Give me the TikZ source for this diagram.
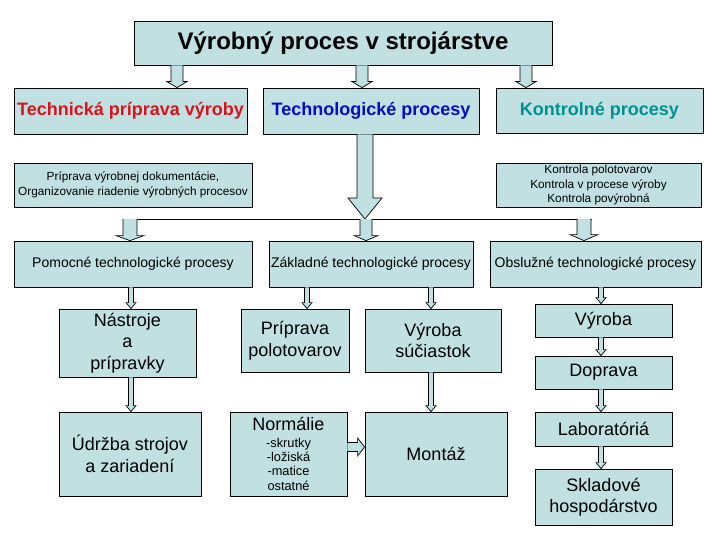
\documentclass[tikz,border=0pt]{standalone}
\usepackage{fontspec}
\setmainfont{Liberation Sans}
\usetikzlibrary{calc}
\definecolor{boxc}{RGB}{192,224,226}
\definecolor{tred}{RGB}{215,20,30}
\definecolor{tblue}{RGB}{10,10,200}
\definecolor{tteal}{RGB}{0,145,145}
\tikzset{
  box/.style={draw=black, line width=0.8pt, fill=boxc, inner sep=0pt, align=center, text=black},
  blk/.style={draw=black, line width=0.7pt, fill=boxc, line join=miter},
  ftitle/.style={font=\fontsize{24}{28}\selectfont\bfseries},
  fhead/.style={font=\fontsize{18}{21}\selectfont\bfseries},
  fsmall/.style={font=\fontsize{11.8}{14.3}\selectfont},
  fmid/.style={font=\fontsize{14}{16}\selectfont},
  fbig/.style={font=\fontsize{18}{21.5}\selectfont},
}
% vertical block arrow: x, from, to, shaft half width, head half width, head length
\newcommand\vblk[6]{%
  \draw[blk] let \p1=(#2), \p2=(#3) in
  (#1pt-#4pt,\y1) -- (#1pt-#4pt,\y2+#6pt) -- (#1pt-#5pt,\y2+#6pt) -- (#1pt,\y2)
  -- (#1pt+#5pt,\y2+#6pt) -- (#1pt+#4pt,\y2+#6pt) -- (#1pt+#4pt,\y1);}
% horizontal block arrow: y, from, to, shaft half width, head half width, head length
\newcommand\hblk[6]{%
  \draw[blk] let \p1=(#2), \p2=(#3) in
  (\x1,-#1pt+#4pt) -- (\x2-#6pt,-#1pt+#4pt) -- (\x2-#6pt,-#1pt+#5pt) -- (\x2,-#1pt)
  -- (\x2-#6pt,-#1pt-#5pt) -- (\x2-#6pt,-#1pt-#4pt) -- (\x1,-#1pt-#4pt);}
\begin{document}
\begin{tikzpicture}[x=1pt,y=-1pt]
\fill[white] (0,0) rectangle (720,540);
\useasboundingbox (0,0) rectangle (720,540);

% row 1
\node[box, ftitle, minimum width=418pt, minimum height=44pt] (title) at (343,43) {Výrobný proces v strojárstve};
% row 2
\node[box, fhead, text=tred, minimum width=233pt, minimum height=46pt] (tech) at (130.5,111) {Technická príprava výroby};
\node[box, fhead, text=tblue, minimum width=216pt, minimum height=46pt] (techn) at (371,111) {Technologické procesy};
\node[box, fhead, text=tteal, minimum width=207pt, minimum height=45pt] (kontr) at (599.5,110.5) {Kontrolné procesy};
% row 3
\node[box, fsmall, minimum width=238pt, minimum height=44pt] (prip) at (133,185) {Príprava výrobnej dokumentácie,\\Organizovanie riadenie výrobných procesov};
\node[box, fsmall, minimum width=205pt, minimum height=44pt] (kon2) at (598.5,185) {Kontrola polotovarov\\Kontrola v procese výroby\\Kontrola povýrobná};
% row 4
\node[box, fmid, minimum width=238pt, minimum height=46pt] (pomoc) at (133,264) {Pomocné technologické procesy};
\node[box, fmid, minimum width=204pt, minimum height=46pt] (zakl) at (371,264) {Základné technologické procesy};
\node[box, fmid, minimum width=211pt, minimum height=46pt] (obsl) at (595.5,264) {Obslužné technologické procesy};
% row 5
\node[box, fbig, minimum width=137pt, minimum height=68pt] (nastr) at (127.5,343) {Nástroje\\a\\prípravky};
\node[box, fbig, minimum width=108pt, minimum height=63pt] (pripol) at (295,340.5) {Príprava\\polotovarov};
\node[box, fbig, minimum width=136pt, minimum height=63pt] (vyrs) at (433,340.5) {Výroba\\súčiastok};
\node[box, fbig, minimum width=137pt, minimum height=33pt] (vyr) at (603.5,320.5) {Výroba};
\node[box, fbig, minimum width=137pt, minimum height=33pt] (dopr) at (603.5,372.5) {Doprava};
\node[box, fbig, minimum width=137pt, minimum height=34pt] (lab) at (603.5,429) {Laboratóriá};
\node[box, fbig, minimum width=137pt, minimum height=56pt] (sklad) at (603.5,497) {Skladové\\hospodárstvo};
% row 6
\node[box, fbig, minimum width=142pt, minimum height=84pt] (udrz) at (130,454) {Údržba strojov\\a zariadení};
\node[box, font=\fontsize{12.8}{14.3}\selectfont, minimum width=117pt, minimum height=84pt] (norm) at (288.5,454)
  {{\fontsize{18}{21}\selectfont Normálie}\\[2pt]-skrutky\\-ložiská\\-matice\\ostatné};
\node[box, fbig, minimum width=142pt, minimum height=84pt] (mont) at (436,454) {Montáž};

% arrows from title
\vblk{177}{title.south}{tech.north}{6}{10}{6}
\vblk{362}{title.south}{techn.north}{6}{10}{6}
\vblk{526}{title.south}{kontr.north}{6}{10}{6}

% bus
\coordinate (busL) at (123,219);
\coordinate (busR) at (592,219);
\vblk{365}{techn.south}{busL}{8}{17}{21}
\draw[line width=0.8pt] (busL) -- (busR);
\vblk{130}{busL}{pomoc.north}{7}{14}{5}
\vblk{366}{busL}{zakl.north}{6}{12}{5}
\vblk{584}{busL}{obsl.north}{7}{14}{6}

% thin arrows
\vblk{131}{pomoc.south}{nastr.north}{2.5}{5}{6}
\vblk{131}{nastr.south}{udrz.north}{2.5}{5}{6}
\vblk{307}{zakl.south}{pripol.north}{2.5}{5}{6}
\vblk{431}{zakl.south}{vyrs.north}{2.5}{5}{6}
\vblk{431}{vyrs.south}{mont.north}{2.5}{5}{6}
\vblk{601}{obsl.south}{vyr.north}{2.5}{5}{6}
\vblk{601}{vyr.south}{dopr.north}{2.5}{5}{6}
\vblk{601}{dopr.south}{lab.north}{2.5}{5}{6}
\vblk{601}{lab.south}{sklad.north}{2.5}{5}{6}

% Normalie -> Montaz
\hblk{447}{norm.east}{mont.west}{4.5}{9}{7}
\end{tikzpicture}
\end{document}
